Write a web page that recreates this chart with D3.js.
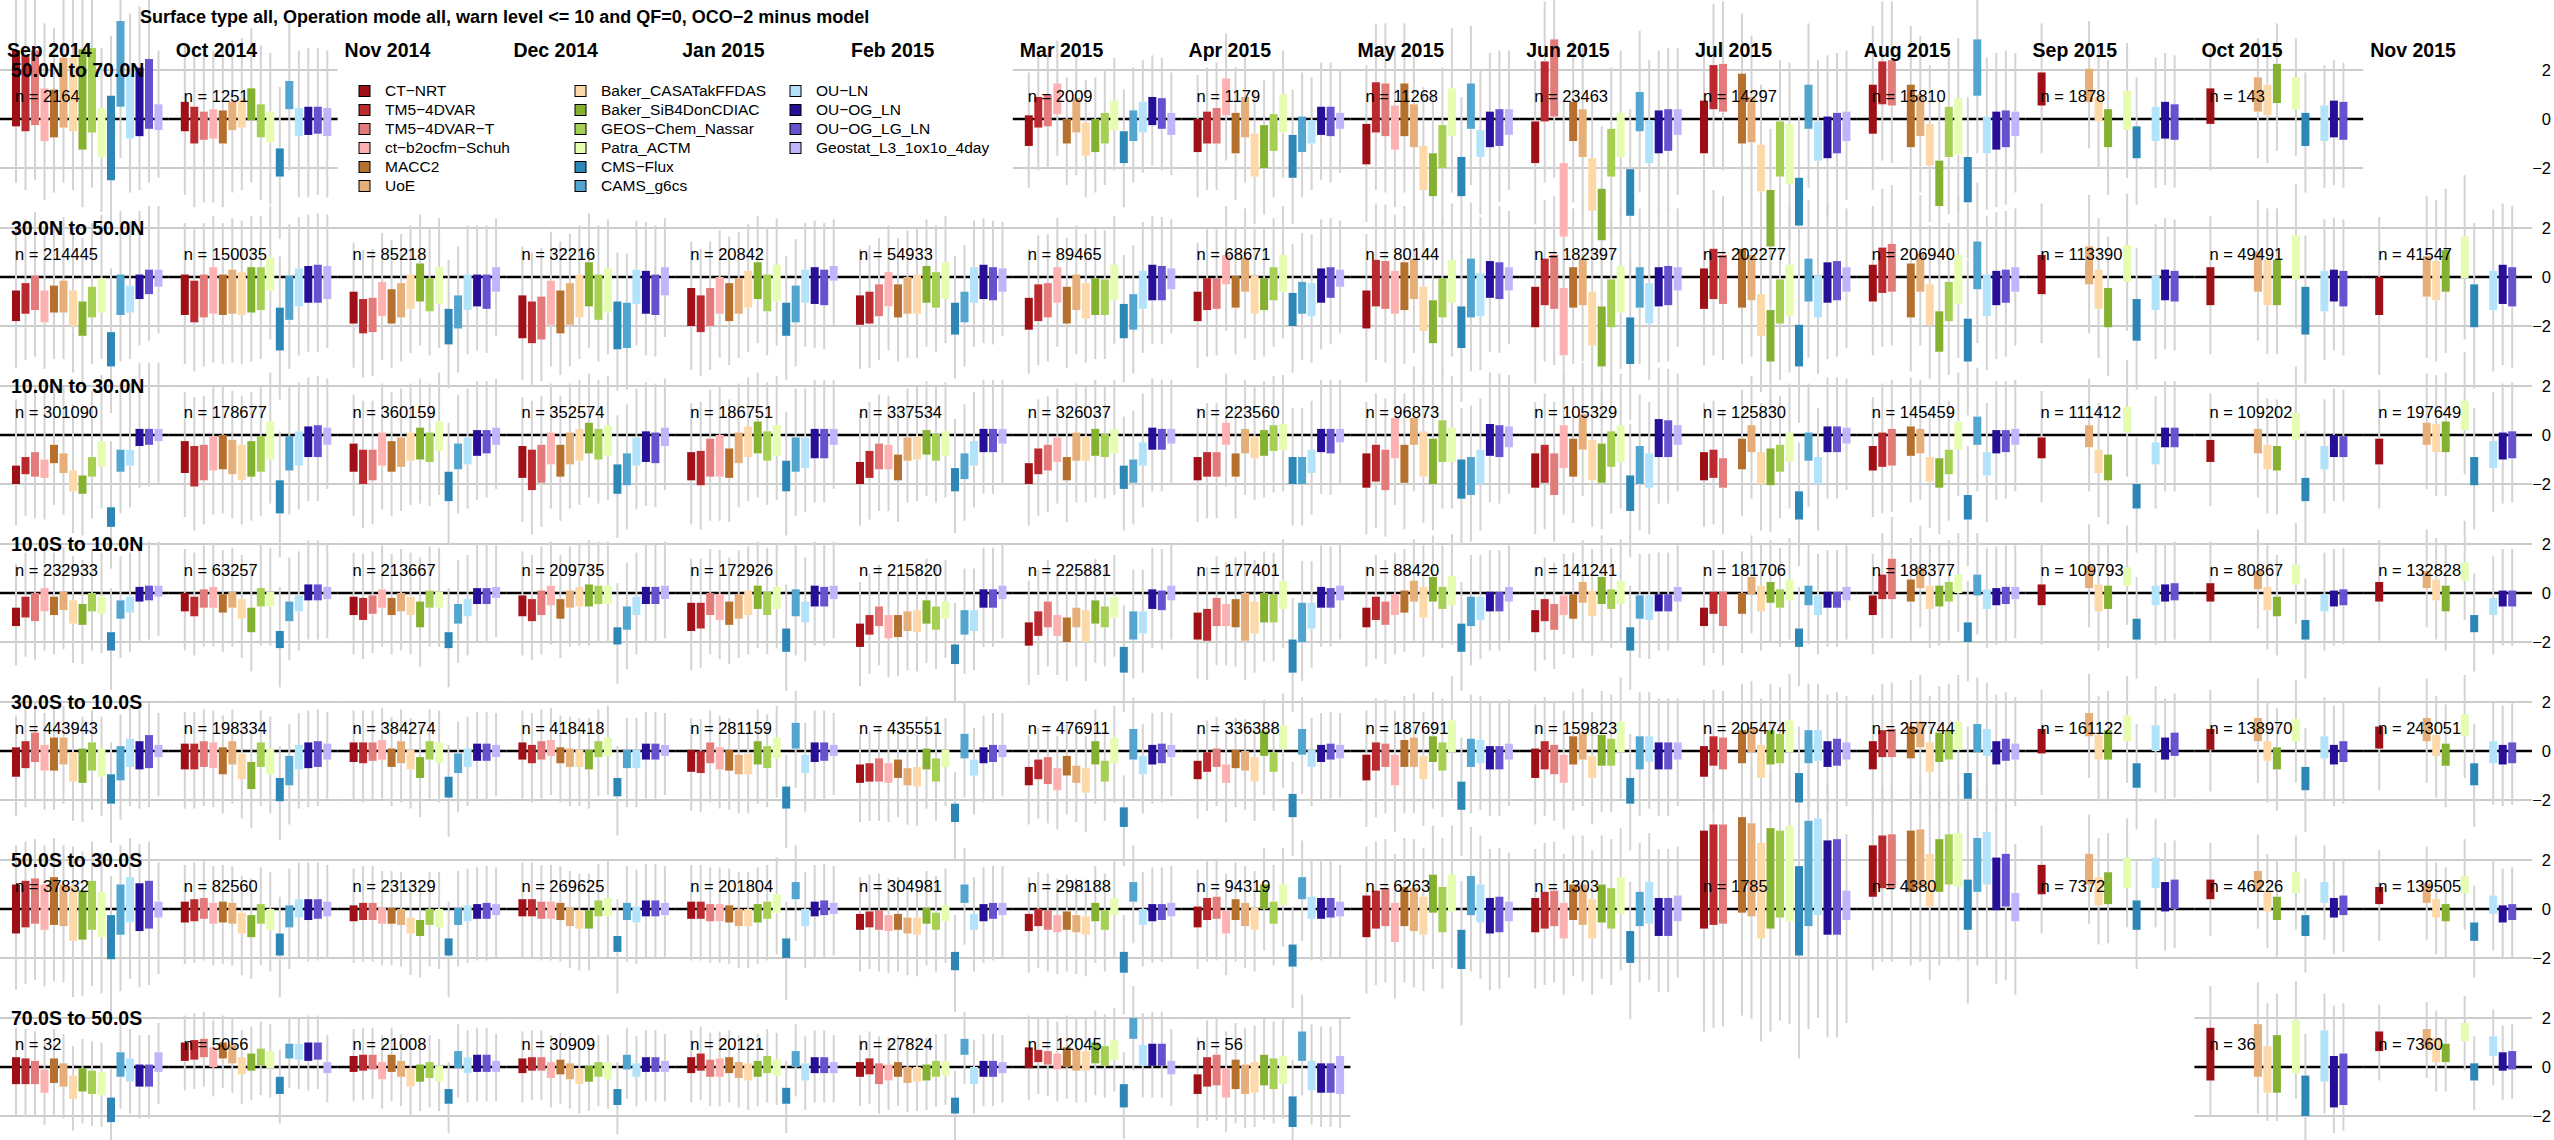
<!DOCTYPE html>
<html>
<head>
<meta charset="utf-8">
<script src="https://cdn.jsdelivr.net/npm/d3@7"></script>
<style>
  body { margin: 0; background: #fff; }
  svg { display: block; font-family: "Liberation Sans", Arial, Helvetica, sans-serif; }
</style>
</head>
<body>
<script>
const _ = null;

const chartTitle = "Surface type all, Operation mode all, warn level <= 10 and QF=0, OCO\u22122 minus model";
const months = ["Sep 2014","Oct 2014","Nov 2014","Dec 2014","Jan 2015","Feb 2015","Mar 2015",
                "Apr 2015","May 2015","Jun 2015","Jul 2015","Aug 2015","Sep 2015","Oct 2015","Nov 2015"];
const bandLabels = ["50.0N to 70.0N","30.0N to 50.0N","10.0N to 30.0N","10.0S to 10.0N",
                    "30.0S to 10.0S","50.0S to 30.0S","70.0S to 50.0S"];
const models = ["CT\u2212NRT","TM5\u22124DVAR","TM5\u22124DVAR\u2212T","ct\u2212b2ocfm\u2212Schuh","MACC2","UoE",
                "Baker_CASATakFFDAS","Baker_SiB4DonCDIAC","GEOS\u2212Chem_Nassar","Patra_ACTM","CMS\u2212Flux","CAMS_g6cs",
                "OU\u2212LN","OU\u2212OG_LN","OU\u2212OG_LG_LN","Geostat_L3_1ox1o_4day"];
const modelColors = ["#9e1016","#bb2a2f","#e47b7b","#fdb1b1","#b5702d","#e6af79",
                     "#fdd8a8","#84b12f","#a6d054","#e5fcb1","#2c87b6","#51a5ce",
                     "#b2e3fa","#271097","#6651cf","#bfb5fa"];
const yTicks = [-2, 0, 2];

// number of soundings per band (rows) and month (columns)
const nCounts = [
  [2164,1251,_,_,_,_,2009,1179,11268,23463,14297,15810,1878,143,_],
  [214445,150035,85218,32216,20842,54933,89465,68671,80144,182397,202277,206940,113390,49491,41547],
  [301090,178677,360159,352574,186751,337534,326037,223560,96873,105329,125830,145459,111412,109202,197649],
  [232933,63257,213667,209735,172926,215820,225881,177401,88420,141241,181706,188377,109793,80867,132828],
  [443943,198334,384274,418418,281159,435551,476911,336388,187691,159823,205474,257744,161122,138970,243051],
  [37832,82560,231329,269625,201804,304981,298188,94319,6263,1303,1785,4380,7372,46226,139505],
  [32,5056,21008,30909,20121,27824,12045,56,_,_,_,_,_,36,7360]
];

// each box: [lower quartile, upper quartile, lower whisker, upper whisker] (ppm)
const band50N70N = [
  [[-0.3,2.8,-2.6,5.3],[-0.5,2.6,-2.9,5.1],[-0.25,2.8,-2.5,5.4],[-0.9,1.25,-3.3,3.9],[-0.75,1.2,-3.0,3.7],[-0.35,2.5,-2.6,5.0],[-0.5,2.5,-2.9,5.2],[-1.25,2.85,-3.6,5.3],[-0.55,2.9,-2.8,5.4],[-1.55,0.45,-3.8,2.9],[-2.5,0.95,-4.6,3.4],[0.5,4.0,-1.6,6.3],[-0.8,1.85,-3.0,4.3],[-0.7,2.1,-2.9,4.6],[-0.4,2.45,-2.6,4.9],[-0.45,0.6,-2.4,2.8]],
  [[-0.5,0.7,-3.1,3.1],[-1.0,0.5,-3.6,2.9],[-0.85,0.3,-3.4,2.7],[-0.8,0.4,-3.4,2.8],[-1.0,0.35,-3.6,2.8],[-0.45,0.7,-3.0,3.2],[-0.35,0.85,-2.9,3.3],[-0.05,1.25,-2.6,3.7],[-0.75,0.6,-3.3,3.0],[-0.95,0.3,-3.5,2.7],[-2.35,-1.2,-4.9,1.3],[0.4,1.55,-2.1,4.0],[-0.7,0.45,-3.2,2.8],[-0.65,0.5,-3.2,2.9],[-0.6,0.5,-3.1,2.9],[-0.7,0.45,-3.2,2.8]],
  _, _, _, _,
  [[-1.1,0.15,-2.8,1.9],[-0.35,0.9,-2.1,2.6],[-0.3,1.0,-2.0,2.7],[0.2,1.45,-1.5,3.2],[-1.0,0.0,-2.7,1.7],[-0.55,0.85,-2.3,2.6],[-1.5,-0.15,-3.2,1.6],[-1.35,0.0,-3.0,1.7],[-1.0,0.25,-2.7,2.0],[-0.45,0.75,-2.1,2.5],[-1.8,-0.5,-3.6,1.2],[-0.9,0.35,-2.6,2.1],[-0.55,0.7,-2.2,2.4],[-0.25,0.9,-1.9,2.6],[-0.4,0.85,-2.1,2.5],[-0.65,0.25,-2.3,1.9]],
  [[-1.35,0.0,-3.2,1.8],[-1.0,0.3,-2.9,2.1],[-1.0,0.45,-2.9,2.3],[0.15,1.65,-1.7,3.5],[-1.4,0.25,-3.3,2.1],[-0.75,0.9,-2.6,2.7],[-2.35,-0.6,-4.3,1.2],[-2.0,-0.25,-3.9,1.6],[-1.3,0.2,-3.2,2.0],[-0.55,1.0,-2.4,2.8],[-2.4,-0.65,-4.3,1.2],[-1.35,0.1,-3.2,1.9],[-1.0,-0.05,-2.9,1.7],[-0.65,0.5,-2.5,2.3],[-0.7,0.5,-2.6,2.3],[-0.4,0.25,-2.2,2.0]],
  [[-1.85,-0.2,-4.2,2.2],[-0.55,1.5,-2.9,3.9],[-0.7,1.45,-3.0,3.9],[-1.25,0.55,-3.6,3.0],[-0.7,1.45,-3.0,3.9],[-1.15,0.6,-3.5,3.0],[-2.9,-1.1,-5.2,1.3],[-3.15,-1.4,-5.5,1.0],[-2.0,-0.25,-4.3,2.1],[-0.7,1.25,-3.0,3.7],[-3.15,-1.55,-5.5,0.9],[-0.4,1.45,-2.7,3.8],[-1.55,-0.45,-3.9,2.0],[-1.15,0.3,-3.5,2.7],[-1.1,0.4,-3.4,2.8],[-0.65,0.4,-2.9,2.8]],
  [[-1.8,-0.1,-4.3,2.4],[-0.1,2.35,-2.6,4.8],[0.1,3.25,-2.4,5.7],[-4.8,-1.8,-7.3,0.7],[-0.9,0.7,-3.4,3.2],[-1.55,0.4,-4.0,2.9],[-3.75,-1.6,-6.2,0.9],[-4.95,-2.85,-7.4,-0.3],[-2.35,-0.4,-4.8,2.1],[-1.55,0.25,-4.0,2.8],[-3.95,-2.05,-6.4,0.4],[-0.5,1.1,-3.0,3.6],[-1.8,-0.05,-4.3,2.4],[-1.4,0.35,-3.9,2.8],[-1.3,0.4,-3.8,2.9],[-0.65,0.4,-3.1,2.9]],
  [[-1.4,0.75,-3.8,3.2],[0.4,2.2,-2.0,4.7],[0.3,2.25,-2.1,4.8],_,[-1.0,1.85,-3.4,4.3],[-0.95,0.9,-3.3,3.4],[-2.95,-1.05,-5.3,1.4],[-5.2,-2.9,-7.6,-0.4],[-2.35,-0.1,-4.7,2.4],[-2.65,-0.2,-5.0,2.3],[-4.35,-2.4,-6.8,0.1],[-0.4,1.4,-2.8,3.9],[-1.7,-0.1,-4.1,2.4],[-1.6,0.1,-4.0,2.6],[-1.4,0.25,-3.8,2.7],[-0.9,0.3,-3.3,2.8]],
  [[-0.6,1.4,-2.9,3.8],[0.6,2.35,-1.7,4.8],[0.55,2.4,-1.8,4.8],_,[-1.15,1.4,-3.5,3.8],[-0.7,1.0,-3.0,3.4],[-1.9,-0.2,-4.2,2.2],[-3.55,-1.7,-5.9,0.7],[-1.55,0.5,-3.9,2.9],[-1.45,0.85,-3.8,3.3],[-3.4,-1.55,-5.7,0.9],[0.95,3.25,-1.4,5.6],[-1.4,0.1,-3.7,2.5],[-1.25,0.3,-3.6,2.7],[-1.15,0.35,-3.5,2.8],[-0.7,0.3,-3.0,2.7]],
  [[0.55,1.9,-1.4,3.9],_,_,_,_,[0.7,2.05,-1.2,4.0],[-0.1,0.9,-2.0,2.9],[-1.15,0.4,-3.1,2.4],_,[-0.45,1.15,-2.4,3.1],[-1.6,-0.3,-3.5,1.7],_,[-0.9,0.5,-2.8,2.5],[-0.8,0.7,-2.7,2.7],[-0.85,0.6,-2.8,2.6],_],
  [[-0.2,1.25,-2.1,2.9],_,_,_,_,[0.3,1.7,-1.6,3.3],[0.15,1.4,-1.8,3.0],[0.65,2.25,-1.3,3.9],_,[0.4,1.7,-1.5,3.3],[-1.1,0.25,-3.0,1.9],_,[-0.9,0.55,-2.8,2.2],[-0.75,0.75,-2.7,2.4],[-0.85,0.7,-2.8,2.3],_],
  _
];

const band30N50N = [
  [[-1.8,-0.55,-3.7,2.05],[-1.5,-0.25,-3.4,2.35],[-1.35,0.05,-3.25,2.65],[-1.85,-0.55,-3.75,2.05],[-1.45,-0.35,-3.35,2.25],[-1.45,-0.15,-3.35,2.45],[-2.0,-0.55,-3.9,2.05],[-2.4,-1.0,-4.3,1.6],[-1.65,-0.4,-3.55,2.2],[-1.45,-0.05,-3.35,2.55],[-3.65,-2.25,-5.55,0.35],[-1.55,0.1,-3.45,2.7],[-1.45,-0.35,-3.35,2.25],[-0.9,0.1,-2.8,2.7],[-0.7,0.3,-2.6,2.9],[-0.4,0.3,-2.3,2.9]],
  [[-1.55,0.1,-3.55,2.2],[-1.85,-0.15,-3.85,1.95],[-1.65,0.1,-3.65,2.2],[-1.5,0.4,-3.5,2.5],[-1.55,0.1,-3.55,2.2],[-1.5,0.3,-3.5,2.4],[-1.55,0.2,-3.55,2.3],[-1.45,0.4,-3.45,2.5],[-1.35,0.4,-3.35,2.5],[-0.55,0.8,-2.55,2.9],[-3.0,-1.25,-5.0,0.85],[-1.75,0.05,-3.75,2.15],[-1.2,0.35,-3.2,2.45],[-1.05,0.45,-3.05,2.55],[-1.05,0.5,-3.05,2.6],[-0.9,0.45,-2.9,2.55]],
  [[-1.9,-0.6,-3.7,1.4],[-2.3,-0.9,-4.1,1.1],[-2.25,-0.85,-4.05,1.15],[-1.6,-0.2,-3.4,1.8],[-1.9,-0.5,-3.7,1.5],[-1.65,-0.25,-3.45,1.75],[-1.3,0.1,-3.1,2.1],[-1.0,0.55,-2.8,2.55],[-1.4,-0.05,-3.2,1.95],[-1.1,0.4,-2.9,2.4],[-2.75,-1.3,-4.55,0.7],[-2.1,-0.75,-3.9,1.25],[-1.35,0.1,-3.15,2.1],[-1.2,0.1,-3.0,2.1],[-1.3,0.1,-3.1,2.1],[-0.6,0.4,-2.4,2.4]],
  [[-2.5,-0.75,-4.2,1.25],[-2.7,-1.0,-4.4,1.0],[-2.55,-0.8,-4.25,1.2],[-1.95,-0.15,-3.65,1.85],[-2.3,-0.55,-4.0,1.45],[-1.95,-0.25,-3.65,1.75],[-1.65,0.1,-3.35,2.1],[-1.2,0.6,-2.9,2.6],[-1.75,0.1,-3.45,2.1],[-1.45,0.35,-3.15,2.35],[-2.95,-1.0,-4.65,1.0],[-2.9,-1.05,-4.6,0.95],[-1.1,0.3,-2.8,2.3],[-1.5,0.25,-3.2,2.25],[-1.55,0.1,-3.25,2.1],[-0.75,0.4,-2.45,2.4]],
  [[-2.0,-0.45,-3.8,1.45],[-2.25,-0.75,-4.05,1.15],[-2.0,-0.45,-3.8,1.45],[-1.5,0.0,-3.3,1.9],[-1.8,-0.25,-3.6,1.65],[-1.5,-0.05,-3.3,1.85],[-1.25,0.25,-3.05,2.15],[-0.9,0.6,-2.7,2.5],[-1.4,0.1,-3.2,2.0],[-1.0,0.5,-2.8,2.4],[-2.4,-1.05,-4.2,0.85],[-1.85,-0.35,-3.65,1.55],[-1.05,0.3,-2.85,2.2],[-1.1,0.4,-2.9,2.3],[-1.15,0.3,-2.95,2.2],[-0.15,0.45,-1.95,2.35]],
  [[-1.95,-0.75,-3.75,1.15],[-1.9,-0.6,-3.7,1.3],[-1.6,-0.3,-3.4,1.6],[-1.2,0.2,-3.0,2.1],[-1.65,-0.3,-3.45,1.6],[-1.5,0.0,-3.3,1.9],[-1.5,0.1,-3.3,2.0],[-1.05,0.45,-2.85,2.35],[-1.25,0.2,-3.05,2.1],[-0.9,0.6,-2.7,2.5],[-2.35,-1.05,-4.15,0.85],[-1.85,-0.6,-3.65,1.3],[-1.05,0.4,-2.85,2.3],[-0.9,0.5,-2.7,2.4],[-0.95,0.4,-2.75,2.3],[-0.6,0.35,-2.4,2.25]],
  [[-2.15,-0.85,-3.95,1.15],[-1.8,-0.3,-3.6,1.7],[-1.65,-0.25,-3.45,1.75],[-1.05,0.4,-2.85,2.4],[-1.9,-0.4,-3.7,1.6],[-1.35,0.1,-3.15,2.1],[-1.7,-0.25,-3.5,1.75],[-1.55,-0.05,-3.35,1.95],[-1.55,-0.1,-3.35,1.9],[-0.95,0.5,-2.75,2.5],[-2.5,-1.1,-4.3,0.9],[-2.15,-0.7,-3.95,1.3],[-1.3,0.25,-3.1,2.25],[-0.95,0.5,-2.75,2.5],[-0.95,0.45,-2.75,2.45],[-0.5,0.35,-2.3,2.35]],
  [[-1.8,-0.6,-3.7,1.4],[-1.35,-0.05,-3.25,1.95],[-1.3,-0.05,-3.2,1.95],[-0.3,0.9,-2.2,2.9],[-1.25,0.05,-3.15,2.05],[-0.6,0.8,-2.5,2.8],[-1.5,0.05,-3.4,2.05],[-1.35,-0.05,-3.25,1.95],[-0.95,0.4,-2.85,2.4],[-0.6,0.9,-2.5,2.9],[-2.0,-0.65,-3.9,1.35],[-1.5,-0.2,-3.4,1.8],[-1.6,-0.25,-3.5,1.75],[-1.05,0.35,-2.95,2.35],[-0.85,0.4,-2.75,2.4],[-0.4,0.3,-2.3,2.3]],
  [[-2.1,-0.55,-4.3,1.75],[-1.2,0.7,-3.4,3.0],[-1.3,0.65,-3.5,2.95],[-1.5,0.25,-3.7,2.55],[-1.35,0.6,-3.55,2.9],[-0.9,0.75,-3.1,3.05],[-2.2,-0.4,-4.4,1.9],[-2.7,-0.95,-4.9,1.35],[-1.65,-0.05,-3.85,2.25],[-1.05,0.7,-3.25,3.0],[-2.9,-1.2,-5.1,1.1],[-1.65,0.75,-3.85,3.05],[-1.6,0.15,-3.8,2.45],[-0.85,0.65,-3.05,2.95],[-0.9,0.6,-3.1,2.9],[-0.55,0.4,-2.75,2.7]],
  [[-2.05,-0.4,-4.35,2.0],[-1.15,0.75,-3.45,3.15],[-1.3,0.9,-3.6,3.3],[-3.2,-0.45,-5.5,1.95],[-1.25,0.4,-3.55,2.8],[-1.15,0.75,-3.45,3.15],[-2.8,-0.6,-5.1,1.8],[-3.65,-1.2,-5.95,1.2],[-2.05,-0.1,-4.35,2.3],[-1.45,0.45,-3.75,2.85],[-3.55,-1.65,-5.85,0.75],[-1.25,0.4,-3.55,2.8],[-1.9,-0.25,-4.2,2.15],[-1.2,0.4,-3.5,2.8],[-1.15,0.45,-3.45,2.85],[-0.55,0.4,-2.85,2.8]],
  [[-1.3,0.35,-3.6,2.75],[-0.9,1.15,-3.2,3.55],[-1.1,0.9,-3.4,3.3],_,[-1.25,1.15,-3.55,3.55],[-0.95,0.9,-3.25,3.3],[-2.4,-0.7,-4.7,1.7],[-3.45,-1.35,-5.75,1.05],[-1.9,-0.1,-4.2,2.3],[-1.6,0.5,-3.9,2.9],[-3.65,-1.95,-5.95,0.45],[-1.0,0.75,-3.3,3.15],[-1.65,0.05,-3.95,2.45],[-1.05,0.6,-3.35,3.0],[-0.95,0.65,-3.25,3.05],[-0.6,0.4,-2.9,2.8]],
  [[-1.0,0.5,-3.2,2.9],[-0.65,1.2,-2.85,3.6],[-0.6,1.35,-2.8,3.75],_,[-1.65,0.55,-3.85,2.95],[-0.6,0.95,-2.8,3.35],[-1.95,-0.3,-4.15,2.1],[-3.05,-1.4,-5.25,1.0],[-1.8,-0.2,-4.0,2.2],[-1.1,0.9,-3.3,3.3],[-3.45,-1.7,-5.65,0.7],[-0.5,1.45,-2.7,3.85],[-1.6,0.1,-3.8,2.5],[-1.15,0.25,-3.35,2.65],[-1.05,0.3,-3.25,2.7],[-0.6,0.4,-2.8,2.8]],
  [[-0.7,0.9,-2.7,3.0],_,_,_,_,[-0.3,1.25,-2.3,3.35],[-1.3,0.3,-3.3,2.4],[-2.05,-0.45,-4.05,1.65],_,[-0.2,1.3,-2.2,3.4],[-2.6,-0.9,-4.6,1.2],_,[-1.35,0.05,-3.35,2.15],[-0.95,0.3,-2.95,2.4],[-1.0,0.25,-3.0,2.35],_],
  [[-1.15,0.4,-3.15,2.5],_,_,_,_,[-0.6,1.05,-2.6,3.15],[-1.15,0.7,-3.15,2.8],[-1.15,0.7,-3.15,2.8],_,[-0.1,1.7,-2.1,3.8],[-2.35,-0.4,-4.35,1.7],_,[-1.4,0.25,-3.4,2.35],[-1.0,0.3,-3.0,2.4],[-1.2,0.25,-3.2,2.35],_],
  [[-1.55,0.0,-4.0,2.45],_,_,_,_,[-0.8,0.85,-3.3,3.3],[-0.95,0.65,-3.45,3.15],[-0.6,1.1,-3.1,3.6],_,[-0.05,1.65,-2.55,4.15],[-2.05,-0.3,-4.55,2.2],_,[-1.35,0.25,-3.85,2.75],[-1.1,0.5,-3.6,3.0],[-1.2,0.4,-3.7,2.9],_]
];

const band10N30N = [
  [[-2.0,-1.25,-3.7,1.45],[-1.6,-0.9,-3.3,1.8],[-1.7,-0.7,-3.4,2.0],[-1.75,-1.0,-3.45,1.7],[-1.15,-0.4,-2.85,2.3],[-1.55,-0.75,-3.25,1.95],[-2.3,-1.45,-4.0,1.25],[-2.4,-1.65,-4.1,1.05],[-1.7,-0.9,-3.4,1.8],[-1.3,-0.25,-3.0,2.45],[-3.75,-2.95,-5.45,-0.25],[-1.5,-0.6,-3.2,2.1],[-1.25,-0.6,-2.95,2.1],[-0.45,0.25,-2.15,2.95],[-0.4,0.25,-2.1,2.95],[-0.25,0.25,-1.95,2.95]],
  [[-1.55,-0.25,-3.35,1.75],[-2.1,-0.45,-3.9,1.55],[-1.85,-0.4,-3.65,1.6],[-1.45,-0.05,-3.25,1.95],[-1.4,0.0,-3.2,2.0],[-1.6,-0.2,-3.4,1.8],[-1.85,-0.4,-3.65,1.6],[-1.7,-0.25,-3.5,1.75],[-1.5,-0.05,-3.3,1.95],[-1.0,0.55,-2.8,2.55],[-3.2,-1.85,-5.0,0.15],[-1.45,-0.05,-3.25,1.95],[-1.25,0.15,-3.05,2.15],[-0.9,0.35,-2.7,2.35],[-0.9,0.4,-2.7,2.4],[-0.4,0.3,-2.2,2.3]],
  [[-1.5,-0.35,-3.3,1.65],[-2.0,-0.6,-3.8,1.4],[-1.85,-0.6,-3.65,1.4],[-1.25,0.1,-3.05,2.1],[-1.5,-0.25,-3.3,1.75],[-1.3,-0.1,-3.1,1.9],[-1.05,0.1,-2.85,2.1],[-1.0,0.3,-2.8,2.3],[-1.1,0.1,-2.9,2.1],[-0.65,0.55,-2.45,2.55],[-2.7,-1.5,-4.5,0.5],[-1.4,-0.35,-3.2,1.65],[-1.2,-0.1,-3.0,1.9],[-0.85,0.2,-2.65,2.2],[-0.75,0.2,-2.55,2.2],[-0.4,0.3,-2.2,2.3]],
  [[-1.75,-0.45,-3.55,1.55],[-2.25,-0.6,-4.05,1.4],[-1.95,-0.4,-3.75,1.6],[-1.2,0.1,-3.0,2.1],[-1.7,-0.4,-3.5,1.6],[-1.2,0.1,-3.0,2.1],[-1.05,0.25,-2.85,2.25],[-0.75,0.5,-2.55,2.5],[-1.0,0.25,-2.8,2.25],[-0.85,0.4,-2.65,2.4],[-2.4,-1.2,-4.2,0.8],[-2.05,-0.75,-3.85,1.25],[-1.25,-0.1,-3.05,1.9],[-1.1,0.15,-2.9,2.15],[-1.15,0.1,-2.95,2.1],[-0.45,0.3,-2.25,2.3]],
  [[-1.85,-0.7,-3.65,1.3],[-2.05,-0.65,-3.85,1.35],[-1.7,-0.15,-3.5,1.85],[-1.7,0.0,-3.5,2.0],[-1.75,-0.55,-3.55,1.45],[-1.15,0.1,-2.95,2.1],[-0.9,0.35,-2.7,2.35],[-0.75,0.55,-2.55,2.55],[-1.05,0.15,-2.85,2.15],[-0.85,0.4,-2.65,2.4],[-2.3,-1.05,-4.1,0.95],[-1.5,-0.1,-3.3,1.9],[-1.35,-0.1,-3.15,1.9],[-0.95,0.25,-2.75,2.25],[-0.95,0.25,-2.75,2.25],[-0.4,0.25,-2.2,2.25]],
  [[-2.0,-1.1,-3.7,0.9],[-1.75,-0.65,-3.45,1.35],[-1.4,-0.35,-3.1,1.65],[-1.4,-0.4,-3.1,1.6],[-1.85,-0.8,-3.55,1.2],[-1.05,-0.1,-2.75,1.9],[-1.0,-0.05,-2.7,1.95],[-0.8,0.2,-2.5,2.2],[-1.05,0.05,-2.75,2.05],[-0.85,0.15,-2.55,2.15],[-2.3,-1.35,-4.0,0.65],[-1.8,-0.75,-3.5,1.25],[-1.25,-0.25,-2.95,1.75],[-0.7,0.25,-2.4,2.25],[-0.7,0.25,-2.4,2.25],[-0.35,0.25,-2.05,2.25]],
  [[-2.0,-1.15,-3.7,0.85],[-1.6,-0.55,-3.3,1.45],[-1.45,-0.4,-3.15,1.6],[-1.1,-0.1,-2.8,1.9],[-1.85,-0.9,-3.55,1.1],[-1.05,0.1,-2.75,2.1],[-1.05,-0.05,-2.75,1.95],[-0.85,0.25,-2.55,2.25],[-0.9,0.05,-2.6,2.05],[-0.75,0.25,-2.45,2.25],[-2.2,-1.25,-3.9,0.75],[-1.95,-1.0,-3.65,1.0],[-1.25,-0.3,-2.95,1.7],[-0.6,0.3,-2.3,2.3],[-0.6,0.25,-2.3,2.25],[-0.35,0.25,-2.05,2.25]],
  [[-1.85,-0.9,-3.55,1.1],[-1.7,-0.7,-3.4,1.3],[-1.7,-0.7,-3.4,1.3],[-0.4,0.5,-2.1,2.5],[-1.7,-0.75,-3.4,1.25],[-0.75,0.25,-2.45,2.25],[-0.95,-0.05,-2.65,1.95],[-0.85,0.2,-2.55,2.2],[-0.65,0.4,-2.35,2.4],[-0.6,0.45,-2.3,2.45],[-2.0,-0.9,-3.7,1.1],[-2.0,-0.9,-3.7,1.1],[-1.55,-0.6,-3.25,1.4],[-0.7,0.25,-2.4,2.25],[-0.75,0.25,-2.45,2.25],[-0.3,0.25,-2.0,2.25]],
  [[-2.15,-0.75,-4.05,1.35],[-1.9,-0.4,-3.8,1.7],[-2.25,-0.6,-4.15,1.5],[-0.95,0.7,-2.85,2.8],[-1.95,-0.4,-3.85,1.7],[-0.4,0.7,-2.3,2.8],[-1.7,0.15,-3.6,2.25],[-2.0,-0.15,-3.9,1.95],[-1.1,0.6,-3.0,2.7],[-1.1,0.3,-3.0,2.4],[-2.6,-1.0,-4.5,1.1],[-2.45,-0.9,-4.35,1.2],[-2.0,-0.6,-3.9,1.5],[-0.85,0.45,-2.75,2.55],[-0.9,0.4,-2.8,2.5],[-0.5,0.35,-2.4,2.45]],
  [[-2.15,-0.75,-4.05,1.35],[-1.95,-0.4,-3.85,1.7],[-2.45,-0.75,-4.35,1.35],[-1.35,0.4,-3.25,2.5],[-1.7,-0.15,-3.6,1.95],[-0.6,0.85,-2.5,2.95],[-1.85,-0.2,-3.75,1.9],[-1.95,-0.35,-3.85,1.75],[-1.3,0.15,-3.2,2.25],[-1.1,0.4,-3.0,2.5],[-3.1,-1.65,-5.0,0.45],[-2.0,-0.45,-3.9,1.65],[-2.15,-0.75,-4.05,1.35],[-0.9,0.65,-2.8,2.75],[-0.9,0.6,-2.8,2.7],[-0.4,0.4,-2.3,2.5]],
  [[-1.85,-0.7,-3.75,1.3],[-1.75,-0.6,-3.65,1.4],[-2.15,-0.95,-4.05,1.05],_,[-1.4,-0.15,-3.3,1.85],[-0.7,0.4,-2.6,2.4],[-2.0,-0.7,-3.9,1.3],[-2.05,-0.55,-3.95,1.45],[-1.5,-0.4,-3.4,1.6],[-1.1,0.1,-3.0,2.1],[-3.45,-2.3,-5.35,-0.3],[-1.05,0.1,-2.95,2.1],[-2.0,-0.9,-3.9,1.1],[-0.7,0.35,-2.6,2.35],[-0.7,0.35,-2.6,2.35],[-0.35,0.3,-2.25,2.3]],
  [[-1.45,-0.45,-3.35,1.55],[-1.3,0.1,-3.2,2.1],[-1.25,0.25,-3.15,2.25],_,[-0.85,0.35,-2.75,2.35],[-0.75,0.25,-2.65,2.25],[-1.9,-0.9,-3.8,1.1],[-2.15,-0.95,-4.05,1.05],[-1.6,-0.6,-3.5,1.4],[-0.6,0.55,-2.5,2.55],[-3.45,-2.45,-5.35,-0.45],[-0.4,0.75,-2.3,2.75],[-1.65,-0.7,-3.55,1.3],[-0.75,0.2,-2.65,2.2],[-0.7,0.2,-2.6,2.2],[-0.4,0.25,-2.3,2.25]],
  [[-0.95,-0.1,-2.75,1.8],_,_,_,_,[-0.5,0.4,-2.3,2.3],[-1.55,-0.6,-3.35,1.3],[-1.85,-0.8,-3.65,1.1],_,[0.1,1.15,-1.7,3.05],[-3.0,-2.0,-4.8,-0.1],_,[-1.2,-0.3,-3.0,1.6],[-0.5,0.3,-2.3,2.2],[-0.5,0.3,-2.3,2.2],_],
  [[-1.1,-0.2,-2.9,1.7],_,_,_,_,[-0.75,0.25,-2.55,2.15],[-1.4,-0.4,-3.2,1.5],[-1.45,-0.45,-3.25,1.45],_,[-0.2,0.9,-2.0,2.8],[-2.7,-1.75,-4.5,0.15],_,[-1.4,-0.45,-3.2,1.45],[-0.9,0.0,-2.7,1.9],[-0.9,-0.05,-2.7,1.85],_],
  [[-1.2,-0.15,-3.0,1.85],_,_,_,_,[-0.4,0.5,-2.2,2.5],[-0.7,0.45,-2.5,2.45],[-0.7,0.55,-2.5,2.55],_,[0.2,1.4,-1.6,3.4],[-2.05,-0.9,-3.85,1.1],_,[-1.35,-0.25,-3.15,1.75],[-1.0,0.1,-2.8,2.1],[-0.95,0.15,-2.75,2.15],_]
];

const band10S10N = [
  [[-1.35,-0.6,-2.95,1.2],[-1.0,-0.15,-2.6,1.65],[-1.15,0.0,-2.75,1.8],[-0.75,0.2,-2.35,2.0],[-0.9,-0.15,-2.5,1.65],[-0.7,0.05,-2.3,1.85],[-1.25,-0.3,-2.85,1.5],[-1.3,-0.45,-2.9,1.35],[-0.75,0.0,-2.35,1.8],[-0.85,-0.15,-2.45,1.65],[-2.35,-1.6,-3.95,0.2],[-1.05,-0.3,-2.65,1.5],[-0.8,-0.15,-2.4,1.65],[-0.35,0.25,-1.95,2.05],[-0.3,0.3,-1.9,2.1],[-0.15,0.3,-1.75,2.1]],
  [[-0.75,0.0,-2.35,1.8],[-0.95,-0.15,-2.55,1.65],[-0.6,0.15,-2.2,1.95],[-0.6,0.25,-2.2,2.05],[-0.8,-0.05,-2.4,1.75],[-0.6,0.05,-2.2,1.85],[-1.05,-0.25,-2.65,1.55],[-1.6,-0.6,-3.2,1.2],[-0.55,0.2,-2.15,2.0],[-0.55,0.05,-2.15,1.85],[-2.25,-1.55,-3.85,0.25],[-1.15,-0.35,-2.75,1.45],[-0.75,-0.1,-2.35,1.7],[-0.3,0.35,-1.9,2.15],[-0.3,0.35,-1.9,2.15],[-0.25,0.25,-1.85,2.05]],
  [[-0.9,-0.15,-2.5,1.65],[-1.1,-0.2,-2.7,1.6],[-0.85,-0.1,-2.45,1.7],[-0.6,0.15,-2.2,1.95],[-0.9,-0.2,-2.5,1.6],[-0.75,0.0,-2.35,1.8],[-0.9,-0.15,-2.5,1.65],[-1.4,-0.35,-3.0,1.45],[-0.6,0.1,-2.2,1.9],[-0.6,0.05,-2.2,1.85],[-2.25,-1.6,-3.85,0.2],[-1.25,-0.45,-2.85,1.35],[-0.95,-0.25,-2.55,1.55],[-0.45,0.2,-2.05,2.0],[-0.45,0.2,-2.05,2.0],[-0.2,0.25,-1.8,2.05]],
  [[-0.95,-0.1,-2.55,1.7],[-1.15,-0.25,-2.75,1.55],[-0.9,0.1,-2.5,1.9],[-0.5,0.3,-2.1,2.1],[-1.05,-0.25,-2.65,1.55],[-0.6,0.1,-2.2,1.9],[-0.55,0.25,-2.15,2.05],[-0.55,0.35,-2.15,2.15],[-0.45,0.3,-2.05,2.1],[-0.45,0.3,-2.05,2.1],[-2.1,-1.4,-3.7,0.4],[-1.5,-0.55,-3.1,1.25],[-0.9,-0.15,-2.5,1.65],[-0.45,0.25,-2.05,2.05],[-0.45,0.25,-2.05,2.05],[-0.25,0.3,-1.85,2.1]],
  [[-1.55,-0.4,-3.15,1.4],[-1.45,-0.4,-3.05,1.4],[-0.9,0.0,-2.5,1.8],[-1.1,-0.05,-2.7,1.75],[-1.3,-0.35,-2.9,1.45],[-1.05,-0.05,-2.65,1.75],[-0.9,0.1,-2.5,1.9],[-0.65,0.3,-2.25,2.1],[-0.9,0.05,-2.5,1.85],[-0.65,0.25,-2.25,2.05],[-2.4,-1.45,-4.0,0.35],[-0.95,0.15,-2.55,1.95],[-1.2,-0.35,-2.8,1.45],[-0.55,0.3,-2.15,2.1],[-0.55,0.25,-2.15,2.05],[-0.25,0.3,-1.85,2.1]],
  [[-2.2,-1.25,-3.8,0.45],[-1.7,-0.9,-3.3,0.8],[-1.35,-0.55,-2.95,1.15],[-1.85,-0.9,-3.45,0.8],[-1.8,-0.9,-3.4,0.8],[-1.55,-0.75,-3.15,0.95],[-1.6,-0.7,-3.2,1.0],[-1.25,-0.3,-2.85,1.4],[-1.5,-0.55,-3.1,1.15],[-1.05,-0.35,-2.65,1.35],[-2.9,-2.1,-4.5,-0.4],[-1.7,-0.7,-3.3,1.0],[-1.55,-0.7,-3.15,1.0],[-0.6,0.15,-2.2,1.85],[-0.6,0.15,-2.2,1.85],[-0.25,0.3,-1.85,2.0]],
  [[-2.15,-1.2,-3.75,0.5],[-1.75,-0.75,-3.35,0.95],[-1.4,-0.35,-3.0,1.35],[-1.75,-0.9,-3.35,0.8],[-2.0,-1.0,-3.6,0.7],[-1.4,-0.6,-3.0,1.1],[-2.0,-0.7,-3.6,1.0],[-1.25,-0.3,-2.85,1.4],[-1.4,-0.55,-3.0,1.15],[-1.0,-0.15,-2.6,1.55],[-3.25,-2.2,-4.85,-0.5],[-1.9,-0.75,-3.5,0.95],[-1.65,-0.75,-3.25,0.95],[-0.65,0.15,-2.25,1.85],[-0.7,0.1,-2.3,1.8],[-0.3,0.3,-1.9,2.0]],
  [[-1.9,-0.8,-3.5,0.9],[-1.95,-0.65,-3.55,1.05],[-1.35,-0.2,-2.95,1.5],[-1.35,-0.45,-2.95,1.25],[-1.4,-0.25,-3.0,1.45],[-1.95,0.0,-3.55,1.7],[-1.65,-0.35,-3.25,1.35],[-1.2,0.0,-2.8,1.7],[-1.2,-0.05,-2.8,1.65],[-0.65,0.5,-2.25,2.2],[-3.25,-1.9,-4.85,-0.2],[-2.0,-0.4,-3.6,1.3],[-1.45,-0.4,-3.05,1.3],[-0.6,0.25,-2.2,1.95],[-0.6,0.2,-2.2,1.9],[-0.3,0.3,-1.9,2.0]],
  [[-1.4,-0.6,-3.0,1.1],[-1.1,-0.15,-2.7,1.55],[-1.3,-0.35,-2.9,1.35],[-0.9,-0.05,-2.5,1.65],[-0.8,0.1,-2.4,1.8],[-0.35,0.5,-1.95,2.2],[-1.0,0.25,-2.6,1.95],[-0.35,0.65,-1.95,2.35],[-0.65,0.25,-2.25,1.95],[-0.5,0.7,-2.1,2.4],[-2.4,-1.25,-4.0,0.45],[-1.35,-0.15,-2.95,1.55],[-1.1,-0.15,-2.7,1.55],[-0.75,0.05,-2.35,1.75],[-0.75,0.05,-2.35,1.75],[-0.35,0.25,-1.95,1.95]],
  [[-1.6,-0.7,-3.2,1.0],[-1.15,-0.25,-2.75,1.45],[-1.5,-0.45,-3.1,1.25],[-0.9,-0.1,-2.5,1.6],[-1.05,-0.05,-2.65,1.65],[-0.4,0.45,-2.0,2.15],[-0.95,0.1,-2.55,1.8],[-0.45,0.65,-2.05,2.35],[-0.65,0.15,-2.25,1.85],[-0.45,0.5,-2.05,2.2],[-2.35,-1.4,-3.95,0.3],[-1.05,-0.1,-2.65,1.6],[-1.1,-0.1,-2.7,1.6],[-0.75,-0.05,-2.35,1.65],[-0.75,-0.05,-2.35,1.65],[-0.35,0.25,-1.95,1.95]],
  [[-1.35,-0.6,-2.95,1.1],[-0.85,0.05,-2.45,1.75],[-1.35,0.05,-2.95,1.75],_,[-0.85,0.0,-2.45,1.7],[-0.05,0.65,-1.65,2.35],[-0.75,0.3,-2.35,2.0],[-0.4,0.45,-2.0,2.15],[-0.6,0.15,-2.2,1.85],[-0.3,0.55,-1.9,2.25],[-2.2,-1.45,-3.8,0.25],[-0.5,0.3,-2.1,2.0],[-0.9,-0.1,-2.5,1.6],[-0.6,0.05,-2.2,1.75],[-0.6,0.05,-2.2,1.75],[-0.3,0.25,-1.9,1.95]],
  [[-0.9,-0.1,-2.5,1.6],[-0.25,0.75,-1.85,2.45],[-0.25,1.4,-1.85,3.1],_,[-0.35,0.55,-1.95,2.25],[0.2,1.05,-1.4,2.75],[-0.65,0.3,-2.25,2.0],[-0.55,0.3,-2.15,2.0],[-0.35,0.45,-1.95,2.15],[0.0,0.75,-1.6,2.45],[-2.0,-1.2,-3.6,0.5],[-0.1,0.75,-1.7,2.45],[-0.65,0.15,-2.25,1.85],[-0.5,0.2,-2.1,1.9],[-0.45,0.25,-2.05,1.95],[-0.25,0.25,-1.85,1.95]],
  [[-0.5,0.35,-2.1,2.05],_,_,_,_,[0.2,1.1,-1.4,2.8],[-0.75,0.35,-2.35,2.05],[-0.65,0.3,-2.25,2.0],_,[0.3,1.05,-1.3,2.75],[-1.9,-1.05,-3.5,0.65],_,[-0.5,0.3,-2.1,2.0],[-0.35,0.35,-1.95,2.05],[-0.3,0.4,-1.9,2.1],_],
  [[-0.35,0.4,-1.95,2.1],_,_,_,_,[0.15,0.9,-1.45,2.6],[-0.7,0.25,-2.3,1.95],[-0.95,-0.15,-2.55,1.55],_,[0.35,1.15,-1.25,2.85],[-1.9,-1.1,-3.5,0.6],_,[-0.75,-0.05,-2.35,1.65],[-0.55,0.1,-2.15,1.8],[-0.5,0.15,-2.1,1.85],_],
  [[-0.35,0.45,-1.95,2.15],_,_,_,_,[0.2,0.9,-1.4,2.6],[-0.3,0.55,-1.9,2.25],[-0.75,0.3,-2.35,2.0],_,[0.5,1.25,-1.1,2.95],[-1.6,-0.9,-3.2,0.8],_,[-0.9,-0.2,-2.5,1.5],[-0.55,0.1,-2.15,1.8],[-0.55,0.1,-2.15,1.8],_]
];

const band30S10S = [
  [[-1.05,0.15,-2.65,1.45],[-0.7,0.4,-2.3,1.7],[-0.45,0.75,-2.05,2.05],[-0.8,0.25,-2.4,1.55],[-0.8,0.55,-2.4,1.85],[-0.55,0.55,-2.15,1.85],[-1.25,-0.05,-2.85,1.25],[-1.3,0.1,-2.9,1.4],[-0.8,0.35,-2.4,1.65],[-1.05,0.1,-2.65,1.4],[-2.15,-0.95,-3.75,0.35],[-1.2,0.2,-2.8,1.5],[-0.65,0.5,-2.25,1.8],[-0.75,0.4,-2.35,1.7],[-0.7,0.65,-2.3,1.95],[-0.25,0.25,-1.85,1.55]],
  [[-0.75,0.3,-2.35,1.6],[-0.75,0.3,-2.35,1.6],[-0.65,0.4,-2.25,1.7],[-0.7,0.35,-2.3,1.65],[-0.95,0.15,-2.55,1.45],[-0.55,0.4,-2.15,1.7],[-1.15,-0.1,-2.75,1.2],[-1.55,-0.45,-3.15,0.85],[-0.65,0.35,-2.25,1.65],[-0.95,0.1,-2.55,1.4],[-2.05,-1.1,-3.65,0.2],[-1.4,-0.2,-3.0,1.1],[-0.75,0.25,-2.35,1.55],[-0.7,0.35,-2.3,1.65],[-0.65,0.4,-2.25,1.7],[-0.35,0.3,-1.95,1.6]],
  [[-0.45,0.35,-2.05,1.65],[-0.5,0.35,-2.1,1.65],[-0.4,0.35,-2.0,1.65],[-0.35,0.45,-1.95,1.75],[-0.65,0.1,-2.25,1.4],[-0.5,0.4,-2.1,1.7],[-0.75,0.05,-2.35,1.35],[-1.1,-0.25,-2.7,1.05],[-0.35,0.4,-1.95,1.7],[-0.5,0.35,-2.1,1.65],[-1.9,-1.05,-3.5,0.25],[-0.9,-0.1,-2.5,1.2],[-0.65,0.1,-2.25,1.4],[-0.4,0.3,-2.0,1.6],[-0.4,0.3,-2.0,1.6],[-0.25,0.25,-1.85,1.55]],
  [[-0.35,0.35,-1.95,1.65],[-0.5,0.25,-2.1,1.55],[-0.35,0.4,-1.95,1.7],[-0.2,0.45,-1.8,1.75],[-0.5,0.15,-2.1,1.45],[-0.65,0.1,-2.25,1.4],[-0.65,0.05,-2.25,1.35],[-0.75,0.05,-2.35,1.35],[-0.25,0.4,-1.85,1.7],[-0.2,0.55,-1.8,1.85],[-1.85,-1.1,-3.45,0.2],[-0.7,0.05,-2.3,1.35],[-0.7,0.05,-2.3,1.35],[-0.35,0.3,-1.95,1.6],[-0.35,0.3,-1.95,1.6],[-0.2,0.25,-1.8,1.55]],
  [[-0.85,0.05,-2.45,1.35],[-0.9,0.0,-2.5,1.3],[-0.5,0.35,-2.1,1.65],[-0.75,0.15,-2.35,1.45],[-0.8,0.05,-2.4,1.35],[-0.95,-0.15,-2.55,1.15],[-0.95,-0.1,-2.55,1.2],[-0.55,0.4,-2.15,1.7],[-0.7,0.2,-2.3,1.5],[-0.3,0.55,-1.9,1.85],[-2.35,-1.45,-3.95,-0.15],[0.1,1.15,-1.5,2.45],[-0.9,-0.15,-2.5,1.15],[-0.45,0.35,-2.05,1.65],[-0.4,0.35,-2.0,1.65],[-0.2,0.25,-1.8,1.55]],
  [[-1.3,-0.55,-2.9,0.75],[-1.25,-0.5,-2.85,0.8],[-1.25,-0.3,-2.85,1.0],[-1.3,-0.5,-2.9,0.8],[-1.1,-0.35,-2.7,0.95],[-1.4,-0.7,-3.0,0.6],[-1.45,-0.65,-3.05,0.65],[-0.75,0.1,-2.35,1.4],[-1.25,-0.3,-2.85,1.0],[-0.65,0.05,-2.25,1.35],[-2.9,-2.15,-4.5,-0.85],[-0.3,0.7,-1.9,2.0],[-1.0,-0.35,-2.6,0.95],[-0.5,0.15,-2.1,1.45],[-0.45,0.25,-2.05,1.55],[-0.25,0.25,-1.85,1.55]],
  [[-1.4,-0.65,-3.0,0.65],[-1.15,-0.35,-2.75,0.95],[-1.35,-0.25,-2.95,1.05],[-1.6,-0.7,-3.2,0.6],[-1.0,-0.2,-2.6,1.1],[-1.3,-0.6,-2.9,0.7],[-1.7,-0.7,-3.3,0.6],[-0.55,0.4,-2.15,1.7],[-1.25,-0.4,-2.85,0.9],[-0.5,0.55,-2.1,1.85],[-3.1,-2.3,-4.7,-1.0],[-0.35,0.9,-1.95,2.2],[-0.95,-0.2,-2.55,1.1],[-0.55,0.25,-2.15,1.55],[-0.5,0.3,-2.1,1.6],[-0.25,0.25,-1.85,1.55]],
  [[-1.15,-0.4,-2.75,0.9],[-0.85,-0.05,-2.45,1.25],[-0.65,0.1,-2.25,1.4],[-1.3,-0.55,-2.9,0.75],[-0.7,0.05,-2.3,1.35],[-0.8,0.0,-2.4,1.3],[-1.25,-0.25,-2.85,1.05],[-0.2,0.8,-1.8,2.1],[-0.85,-0.05,-2.45,1.25],[0.1,1.05,-1.5,2.35],[-2.7,-1.75,-4.3,-0.45],[-0.15,0.9,-1.75,2.2],[-0.65,0.05,-2.25,1.35],[-0.45,0.25,-2.05,1.55],[-0.35,0.3,-1.95,1.6],[-0.3,0.25,-1.9,1.55]],
  [[-1.2,-0.15,-3.1,1.65],[-0.8,0.35,-2.7,2.15],[-0.65,0.3,-2.55,2.1],[-1.4,-0.15,-3.3,1.65],[-0.65,0.45,-2.55,2.25],[-0.65,0.55,-2.55,2.35],[-1.15,-0.2,-3.05,1.6],[-0.45,0.6,-2.35,2.4],[-0.8,0.35,-2.7,2.15],[-0.05,1.25,-1.95,3.05],[-2.4,-1.25,-4.3,0.55],[-0.65,0.5,-2.55,2.3],[-0.5,0.45,-2.4,2.25],[-0.75,0.2,-2.65,2.0],[-0.75,0.2,-2.65,2.0],[-0.35,0.3,-2.25,2.1]],
  [[-1.1,0.1,-3.0,1.9],[-0.75,0.4,-2.65,2.2],[-0.95,0.25,-2.85,2.05],[-1.3,-0.15,-3.2,1.65],[-0.55,0.6,-2.45,2.4],[-0.35,0.75,-2.25,2.55],[-1.1,-0.2,-3.0,1.6],[-0.6,0.65,-2.5,2.45],[-0.6,0.5,-2.5,2.3],[-0.05,1.2,-1.95,3.0],[-2.15,-1.1,-4.05,0.7],[-0.75,0.6,-2.65,2.4],[-0.45,0.6,-2.35,2.4],[-0.75,0.35,-2.65,2.15],[-0.75,0.35,-2.65,2.15],[-0.35,0.35,-2.25,2.15]],
  [[-1.05,0.2,-2.95,2.1],[-0.6,0.6,-2.5,2.5],[-0.75,0.55,-2.65,2.45],_,[-0.5,0.85,-2.4,2.75],[-0.05,0.95,-1.95,2.85],[-1.1,0.25,-3.0,2.15],[-0.55,0.85,-2.45,2.75],[-0.5,0.7,-2.4,2.6],[-0.05,1.25,-1.95,3.15],[-2.1,-0.9,-4.0,1.0],[-0.5,0.85,-2.4,2.75],[-0.4,0.85,-2.3,2.75],[-0.65,0.4,-2.55,2.3],[-0.6,0.5,-2.5,2.4],[-0.35,0.35,-2.25,2.25]],
  [[-0.75,0.4,-2.65,2.3],[-0.25,0.85,-2.15,2.75],[-0.25,0.9,-2.15,2.8],_,[-0.3,1.0,-2.2,2.9],[0.15,1.2,-1.75,3.1],[-0.85,0.35,-2.75,2.25],[-0.45,0.75,-2.35,2.65],[-0.35,0.85,-2.25,2.75],[0.05,1.2,-1.85,3.1],[-1.95,-0.9,-3.85,1.0],[-0.05,1.1,-1.95,3.0],[-0.2,0.9,-2.1,2.8],[-0.55,0.4,-2.45,2.3],[-0.4,0.5,-2.3,2.4],[-0.35,0.3,-2.25,2.2]],
  [[-0.1,0.9,-1.8,2.5],_,_,_,_,[0.6,1.55,-1.1,3.15],[-0.35,0.65,-2.05,2.25],[-0.35,0.85,-2.05,2.45],_,[0.4,1.45,-1.3,3.05],[-1.5,-0.5,-3.2,1.1],_,[0.0,1.05,-1.7,2.65],[-0.35,0.55,-2.05,2.15],[-0.2,0.75,-1.9,2.35],_],
  [[0.05,0.9,-1.65,2.5],_,_,_,_,[0.4,1.35,-1.3,2.95],[-0.4,0.4,-2.1,2.0],[-0.75,0.15,-2.45,1.75],_,[0.4,1.3,-1.3,2.9],[-1.6,-0.65,-3.3,0.95],_,[-0.3,0.6,-2.0,2.2],[-0.55,0.25,-2.25,1.85],[-0.45,0.4,-2.15,2.0],_],
  [[0.1,1.0,-1.6,2.6],_,_,_,_,[0.4,1.35,-1.3,2.95],[-0.2,0.65,-1.9,2.25],[-0.6,0.3,-2.3,1.9],_,[0.6,1.5,-1.1,3.1],[-1.4,-0.5,-3.1,1.1],_,[-0.5,0.4,-2.2,2.0],[-0.55,0.25,-2.25,1.85],[-0.5,0.35,-2.2,1.95],_]
];

const band50S30S = [
  [[-1.0,1.0,-3.3,2.6],[-0.75,1.15,-3.05,2.75],[-0.6,1.25,-2.9,2.85],[-0.85,1.0,-3.15,2.6],[-0.65,1.3,-2.95,2.9],[-0.7,1.0,-3.0,2.6],[-1.3,0.95,-3.6,2.55],[-1.25,0.75,-3.55,2.35],[-0.85,1.15,-3.15,2.75],[-1.15,0.7,-3.45,2.3],[-2.05,-0.25,-4.35,1.35],[-1.05,1.0,-3.35,2.6],[-0.55,1.3,-2.85,2.9],[-0.9,1.05,-3.2,2.65],[-0.8,1.15,-3.1,2.75],[-0.35,0.3,-2.65,1.9]],
  [[-0.55,0.3,-2.25,1.8],[-0.5,0.4,-2.2,1.9],[-0.4,0.45,-2.1,1.95],[-0.6,0.25,-2.3,1.75],[-0.55,0.3,-2.25,1.8],[-0.6,0.25,-2.3,1.75],[-1.0,-0.15,-2.7,1.35],[-1.15,-0.25,-2.85,1.25],[-0.6,0.2,-2.3,1.7],[-0.85,0.0,-2.55,1.5],[-1.9,-1.0,-3.6,0.5],[-0.75,0.15,-2.45,1.65],[-0.35,0.4,-2.05,1.9],[-0.45,0.4,-2.15,1.9],[-0.4,0.4,-2.1,1.9],[-0.3,0.3,-2.0,1.8]],
  [[-0.5,0.15,-2.2,1.65],[-0.45,0.25,-2.15,1.75],[-0.45,0.25,-2.15,1.75],[-0.6,0.05,-2.3,1.55],[-0.6,0.05,-2.3,1.55],[-0.65,0.0,-2.35,1.5],[-1.0,-0.35,-2.7,1.15],[-1.1,-0.45,-2.8,1.05],[-0.65,0.0,-2.35,1.5],[-0.75,0.0,-2.45,1.5],[-1.9,-1.2,-3.6,0.3],[-0.65,0.05,-2.35,1.55],[-0.5,0.15,-2.2,1.65],[-0.4,0.2,-2.1,1.7],[-0.4,0.25,-2.1,1.75],[-0.25,0.2,-1.95,1.7]],
  [[-0.3,0.4,-2.0,1.9],[-0.3,0.4,-2.0,1.9],[-0.4,0.3,-2.1,1.8],[-0.4,0.3,-2.1,1.8],[-0.45,0.25,-2.15,1.75],[-0.7,0.05,-2.4,1.55],[-0.8,-0.05,-2.5,1.45],[-0.8,-0.05,-2.5,1.45],[-0.3,0.35,-2.0,1.85],[-0.3,0.45,-2.0,1.95],[-1.75,-1.1,-3.45,0.4],[-0.45,0.25,-2.15,1.75],[-0.55,0.1,-2.25,1.6],[-0.3,0.35,-2.0,1.85],[-0.3,0.35,-2.0,1.85],[-0.25,0.25,-1.95,1.75]],
  [[-0.4,0.3,-2.1,1.8],[-0.4,0.3,-2.1,1.8],[-0.5,0.2,-2.2,1.7],[-0.5,0.2,-2.2,1.7],[-0.55,0.15,-2.25,1.65],[-0.7,0.0,-2.4,1.5],[-0.7,0.0,-2.4,1.5],[-0.55,0.2,-2.25,1.7],[-0.4,0.3,-2.1,1.8],[-0.15,0.6,-1.85,2.1],[-2.0,-1.2,-3.7,0.3],[0.4,1.1,-1.3,2.6],[-0.7,0.0,-2.4,1.5],[-0.3,0.3,-2.0,1.8],[-0.25,0.35,-1.95,1.85],[-0.2,0.25,-1.9,1.75]],
  [[-0.85,-0.2,-2.55,1.3],[-0.75,-0.1,-2.45,1.4],[-0.85,-0.05,-2.55,1.45],[-0.9,-0.25,-2.6,1.25],[-0.85,-0.2,-2.55,1.3],[-1.0,-0.35,-2.7,1.15],[-1.05,-0.35,-2.75,1.15],[-0.6,0.05,-2.3,1.55],[-0.85,-0.15,-2.55,1.35],[-0.5,0.15,-2.2,1.65],[-2.5,-1.75,-4.2,-0.25],[0.25,1.0,-1.45,2.5],[-0.85,-0.2,-2.55,1.3],[-0.5,0.2,-2.2,1.7],[-0.4,0.25,-2.1,1.75],[-0.25,0.25,-1.95,1.75]],
  [[-0.9,-0.2,-2.6,1.3],[-0.7,0.0,-2.4,1.5],[-0.85,-0.05,-2.55,1.45],[-0.95,-0.25,-2.65,1.25],[-0.85,-0.1,-2.55,1.4],[-0.95,-0.25,-2.65,1.25],[-1.05,-0.3,-2.75,1.2],[-0.5,0.25,-2.2,1.75],[-0.85,-0.05,-2.55,1.45],[-0.25,0.45,-1.95,1.95],[-2.6,-1.75,-4.3,-0.25],[0.3,1.1,-1.4,2.6],[-0.65,0.0,-2.35,1.5],[-0.5,0.2,-2.2,1.7],[-0.45,0.2,-2.15,1.7],[-0.3,0.25,-2.0,1.75]],
  [[-0.75,0.1,-2.45,1.6],[-0.45,0.45,-2.15,1.95],[-0.4,0.5,-2.1,2.0],[-1.0,-0.05,-2.7,1.45],[-0.45,0.4,-2.15,1.9],[-0.7,0.25,-2.4,1.75],[-0.85,0.05,-2.55,1.55],[0.0,1.0,-1.7,2.5],[-0.6,0.3,-2.3,1.8],[0.15,1.0,-1.55,2.5],[-2.35,-1.45,-4.05,0.05],[0.4,1.3,-1.3,2.8],[-0.4,0.5,-2.1,2.0],[-0.4,0.45,-2.1,1.95],[-0.35,0.45,-2.05,1.95],[-0.3,0.3,-2.0,1.8]],
  [[-1.15,0.55,-3.45,2.55],[-0.8,0.75,-3.1,2.75],[-0.7,0.85,-3.0,2.85],[-1.35,0.25,-3.65,2.25],[-0.7,0.9,-3.0,2.9],[-0.9,0.85,-3.2,2.85],[-1.05,0.5,-3.35,2.5],[-0.15,1.4,-2.45,3.4],[-0.95,0.9,-3.25,2.9],[-0.1,1.4,-2.4,3.4],[-2.45,-0.85,-4.75,1.15],[-0.25,1.35,-2.55,3.35],[-0.55,1.0,-2.85,3.0],[-1.0,0.45,-3.3,2.45],[-0.95,0.5,-3.25,2.5],[-0.5,0.3,-2.8,2.3]],
  [[-0.95,0.45,-3.25,2.45],[-0.8,0.7,-3.1,2.7],[-0.7,0.75,-3.0,2.75],[-1.2,0.25,-3.5,2.25],[-0.45,1.0,-2.75,3.0],[-0.65,1.0,-2.95,3.0],[-1.2,0.4,-3.5,2.4],[-0.55,1.0,-2.85,3.0],[-0.8,0.85,-3.1,2.85],[-0.2,1.3,-2.5,3.3],[-2.2,-0.9,-4.5,1.1],[-0.7,0.7,-3.0,2.7],[-0.6,1.1,-2.9,3.1],[-1.1,0.45,-3.4,2.45],[-1.1,0.45,-3.4,2.45],[-0.5,0.55,-2.8,2.55]],
  [[-0.8,3.2,-5.0,5.5],[-0.65,3.45,-4.85,5.75],[-0.6,3.45,-4.8,5.75],_,[-0.15,3.75,-4.35,6.05],[-0.3,3.5,-4.5,5.8],[-1.2,2.7,-5.4,5.0],[-0.8,3.3,-5.0,5.6],[-0.35,3.2,-4.55,5.5],[-0.5,3.4,-4.7,5.7],[-1.9,1.75,-6.1,4.05],[-0.7,3.6,-4.9,5.9],[-0.25,3.7,-4.45,6.0],[-1.05,2.8,-5.25,5.1],[-1.05,2.85,-5.25,5.15],[-0.45,0.75,-4.65,3.05]],
  [[0.5,2.6,-2.5,4.6],[0.85,3.0,-2.15,5.0],[0.85,3.05,-2.15,5.05],_,[0.7,3.2,-2.3,5.2],[0.85,3.25,-2.15,5.25],[0.1,2.25,-2.9,4.25],[0.7,2.85,-2.3,4.85],[1.0,3.05,-2.0,5.05],[0.9,3.1,-2.1,5.1],[-0.85,1.2,-3.85,3.2],[0.7,2.9,-2.3,4.9],[1.0,3.15,-2.0,5.15],[-0.05,2.1,-3.05,4.1],[0.1,2.25,-2.9,4.25],[-0.5,0.65,-3.5,2.65]],
  [[0.6,1.8,-1.0,3.4],_,_,_,_,[1.0,2.25,-0.6,3.85],[0.15,1.3,-1.45,2.9],[0.2,1.5,-1.4,3.1],_,[0.85,2.1,-0.75,3.7],[-0.85,0.35,-2.45,1.95],_,[0.85,2.1,-0.75,3.7],[-0.1,1.1,-1.7,2.7],[0.0,1.2,-1.6,2.8],_],
  [[0.4,1.2,-1.1,2.7],_,_,_,_,[0.7,1.55,-0.8,3.05],[-0.1,0.75,-1.6,2.25],[-0.45,0.5,-1.95,2.0],_,[0.65,1.5,-0.85,3.0],[-1.1,-0.25,-2.6,1.25],_,[0.25,1.1,-1.25,2.6],[-0.35,0.45,-1.85,1.95],[-0.25,0.55,-1.75,2.05],_],
  [[0.2,0.9,-1.3,2.4],_,_,_,_,[0.25,1.05,-1.25,2.55],[-0.35,0.4,-1.85,1.9],[-0.5,0.2,-2.0,1.7],_,[0.65,1.35,-0.85,2.85],[-1.3,-0.55,-2.8,0.95],_,[-0.2,0.55,-1.7,2.05],[-0.55,0.15,-2.05,1.65],[-0.45,0.2,-1.95,1.7],_]
];

const band70S50S = [
  [[-0.7,0.4,-2.0,1.6],[-0.7,0.35,-2.0,1.55],[-0.7,0.25,-2.0,1.45],[-1.05,-0.1,-2.35,1.1],[-0.65,0.35,-1.95,1.55],[-0.8,0.15,-2.1,1.35],[-1.3,-0.35,-2.6,0.85],[-1.0,-0.05,-2.3,1.15],[-1.1,-0.15,-2.4,1.05],[-1.15,-0.2,-2.45,1.0],[-2.25,-1.25,-3.55,-0.05],[-0.4,0.6,-1.7,1.8],[-0.6,0.35,-1.9,1.55],[-0.8,0.1,-2.1,1.3],[-0.8,0.1,-2.1,1.3],[-0.2,0.6,-1.5,1.8]],
  [[0.25,1.0,-0.95,2.1],[0.3,1.1,-0.9,2.2],[0.4,1.15,-0.8,2.25],[0.0,0.8,-1.2,1.9],[0.35,1.0,-0.85,2.1],[0.15,0.9,-1.05,2.0],[-0.3,0.4,-1.5,1.5],[-0.15,0.55,-1.35,1.65],[0.05,0.75,-1.15,1.85],[-0.05,0.65,-1.25,1.75],[-1.1,-0.4,-2.3,0.7],[0.35,0.95,-0.85,2.05],[0.3,0.95,-0.9,2.05],[0.25,1.0,-0.95,2.1],[0.3,1.0,-0.9,2.1],[-0.25,0.2,-1.45,1.3]],
  [[-0.2,0.45,-1.4,1.55],[-0.15,0.5,-1.35,1.6],[-0.1,0.5,-1.3,1.6],[-0.5,0.2,-1.7,1.3],[-0.2,0.5,-1.4,1.6],[-0.4,0.25,-1.6,1.35],[-0.8,-0.05,-2.0,1.05],[-0.6,0.1,-1.8,1.2],[-0.45,0.2,-1.65,1.3],[-0.6,0.05,-1.8,1.15],[-1.5,-0.9,-2.7,0.2],[-0.05,0.65,-1.25,1.75],[-0.25,0.4,-1.45,1.5],[-0.2,0.5,-1.4,1.6],[-0.2,0.5,-1.4,1.6],[-0.2,0.25,-1.4,1.35]],
  [[-0.25,0.35,-1.45,1.45],[-0.15,0.4,-1.35,1.5],[-0.15,0.4,-1.35,1.5],[-0.45,0.2,-1.65,1.3],[-0.3,0.3,-1.5,1.4],[-0.5,0.15,-1.7,1.25],[-0.7,-0.05,-1.9,1.05],[-0.6,0.05,-1.8,1.15],[-0.4,0.2,-1.6,1.3],[-0.5,0.2,-1.7,1.3],[-1.55,-0.9,-2.75,0.2],[-0.1,0.5,-1.3,1.6],[-0.4,0.15,-1.6,1.25],[-0.2,0.4,-1.4,1.5],[-0.2,0.4,-1.4,1.5],[-0.2,0.25,-1.4,1.35]],
  [[-0.25,0.4,-1.45,1.5],[-0.15,0.55,-1.35,1.65],[-0.4,0.3,-1.6,1.4],[-0.4,0.35,-1.6,1.45],[-0.25,0.4,-1.45,1.5],[-0.45,0.2,-1.65,1.3],[-0.55,0.15,-1.75,1.25],[-0.4,0.25,-1.6,1.35],[-0.25,0.45,-1.45,1.55],[-0.35,0.3,-1.55,1.4],[-1.5,-0.85,-2.7,0.25],[0.0,0.65,-1.2,1.75],[-0.55,0.15,-1.75,1.25],[-0.25,0.4,-1.45,1.5],[-0.25,0.4,-1.45,1.5],[-0.25,0.2,-1.45,1.3]],
  [[-0.4,0.2,-1.6,1.3],[-0.3,0.35,-1.5,1.45],[-0.7,0.15,-1.9,1.25],[-0.55,0.1,-1.75,1.2],[-0.4,0.2,-1.6,1.3],[-0.65,0.0,-1.85,1.1],[-0.6,0.0,-1.8,1.1],[-0.55,0.1,-1.75,1.2],[-0.4,0.25,-1.6,1.35],[-0.35,0.25,-1.55,1.35],[-1.9,-1.25,-3.1,-0.15],[0.5,1.15,-0.7,2.25],[-0.7,0.0,-1.9,1.1],[-0.4,0.25,-1.6,1.35],[-0.4,0.25,-1.6,1.35],[-0.25,0.2,-1.45,1.3]],
  [[-0.05,0.8,-1.35,2.1],[0.2,0.7,-1.1,2.0],[0.1,0.65,-1.2,1.95],[-0.1,0.55,-1.4,1.85],[0.0,0.8,-1.3,2.1],[-0.15,0.7,-1.45,2.0],[-0.15,0.65,-1.45,1.95],[0.15,1.0,-1.15,2.3],[0.05,0.85,-1.25,2.15],[0.3,1.1,-1.0,2.4],[-1.65,-0.7,-2.95,0.6],[1.15,2.0,-0.15,3.3],[0.05,0.9,-1.25,2.2],[0.05,0.95,-1.25,2.25],[0.05,0.95,-1.25,2.25],[-0.3,0.25,-1.6,1.55]],
  [[-1.1,-0.3,-2.5,1.2],[-0.8,0.4,-2.2,1.9],[-0.75,0.5,-2.15,2.0],[-1.25,-0.05,-2.65,1.45],[-0.9,0.3,-2.3,1.8],[-1.1,0.1,-2.5,1.6],[-1.05,0.2,-2.45,1.7],[-0.75,0.5,-2.15,2.0],[-0.9,0.35,-2.3,1.85],[-0.7,0.45,-2.1,1.95],[-2.45,-1.2,-3.85,0.3],[0.25,1.45,-1.15,2.95],[-0.95,0.25,-2.35,1.75],[-1.05,0.15,-2.45,1.65],[-1.05,0.15,-2.45,1.65],[-1.1,0.45,-2.5,1.95]],
  _, _, _, _, _,
  [[-0.55,1.6,-2.05,3.3],_,_,_,_,[-0.4,1.75,-1.9,3.45],[-1.05,0.85,-2.2,2.6],[-1.05,1.3,-2.2,3.0],_,[-0.25,1.9,-1.3,3.5],[-2.0,-0.35,-3.2,1.35],_,[-0.6,1.5,-1.9,3.0],[-1.65,0.45,-2.7,2.5],[-1.55,0.55,-2.6,2.6],_],
  [[0.65,1.45,-0.55,2.55],_,_,_,_,[0.75,1.55,-0.45,2.65],[0.2,1.2,-1.0,2.3],[0.2,0.95,-1.0,2.05],_,[1.05,1.8,-0.15,2.9],[-0.55,0.15,-1.75,1.25],_,[0.45,1.25,-0.75,2.35],[-0.15,0.6,-1.35,1.7],[-0.1,0.65,-1.3,1.75],_]
];

const bands = [band50N70N, band30N50N, band10N30N, band10S10N, band30S10S, band50S30S, band70S50S];

// ---------- layout ----------
const W = 2554, H = 1140;
const svg = d3.select("body").append("svg").attr("width", W).attr("height", H);

const xMonth = d3.scaleBand().domain(d3.range(months.length)).range([0, 2532]);
const xModel = d3.scaleBand().domain(d3.range(models.length)).range([12, 162.5]).paddingInner(0.158).paddingOuter(0);
const rowZero = d3.scaleLinear().domain([0, bands.length - 1]).range([119, 1067]);
const unit = 24.5;
const yFor = r => { const z = rowZero(r); return d3.scaleLinear().domain([-2, 2]).range([z + 2 * unit, z - 2 * unit]); };

const gGrid = svg.append("g"), gZero = svg.append("g"), gWhisk = svg.append("g"),
      gBox = svg.append("g"), gText = svg.append("g");

bands.forEach((band, r) => {
  const y = yFor(r);
  band.forEach((panel, m) => {
    if (!panel) return;
    const x0 = xMonth(m), x1 = x0 + xMonth.bandwidth();
    [-2, 2].forEach(v => gGrid.append("line").attr("x1", x0).attr("x2", x1)
      .attr("y1", y(v)).attr("y2", y(v)).attr("stroke", "#cccccc").attr("stroke-width", 1.8));
    gZero.append("line").attr("x1", x0).attr("x2", x1).attr("y1", y(0)).attr("y2", y(0))
      .attr("stroke", "#000").attr("stroke-width", 2.6);

    const boxes = panel.map((b, i) => b ? { i, lo: b[0], hi: b[1], wl: b[2], wh: b[3] } : null).filter(Boolean);
    const cx = d => x0 + xModel(d.i) + xModel.bandwidth() / 2;

    gWhisk.selectAll(null).data(boxes).join("line")
      .attr("x1", cx).attr("x2", cx).attr("y1", d => y(d.wh)).attr("y2", d => y(d.hi))
      .attr("stroke", "#d3d3d3").attr("stroke-width", 2);
    gWhisk.selectAll(null).data(boxes).join("line")
      .attr("x1", cx).attr("x2", cx).attr("y1", d => y(d.lo)).attr("y2", d => y(d.wl))
      .attr("stroke", "#d3d3d3").attr("stroke-width", 2);

    gBox.selectAll(null).data(boxes).join("rect")
      .attr("x", d => x0 + xModel(d.i)).attr("width", xModel.bandwidth())
      .attr("y", d => y(d.hi)).attr("height", d => y(d.lo) - y(d.hi))
      .attr("fill", d => modelColors[d.i]);

    const n = nCounts[r][m];
    if (n != null) {
      gText.append("text").attr("x", x0 + 15).attr("y", y(0.95)).attr("dy", "0.35em")
        .attr("font-size", 16.5).attr("fill", "#000").text("n = " + n);
    }
  });

  // band label
  gText.append("text").attr("x", 11).attr("y", y(2)).attr("dy", "0.35em")
    .attr("font-size", 19.5).attr("font-weight", "bold").text(bandLabels[r]);

  // value axis on the right
  const ax = d3.axisLeft(y).tickValues(yTicks).tickSize(0).tickPadding(0).tickFormat(d3.format("d"));
  const ga = svg.append("g").attr("transform", `translate(2551,0)`).call(ax);
  ga.select(".domain").remove();
  ga.selectAll("text").attr("font-size", 16.5).attr("font-family", null).attr("fill", "#000");
});

// month headers
gText.selectAll(null).data(months).join("text")
  .attr("x", (d, m) => xMonth(m) + 7).attr("y", 50).attr("dy", "0.35em")
  .attr("font-size", 19.5).attr("font-weight", "bold").text(d => d);

// title
gText.append("text").attr("x", 140).attr("y", 17).attr("dy", "0.35em")
  .attr("font-size", 18).attr("font-weight", "bold").text(chartTitle);

// legend (three columns)
const legendCols = [359, 575, 790];
const legend = svg.append("g");
models.forEach((name, i) => {
  const col = Math.floor(i / 6), row = i % 6;
  const lx = legendCols[col], ly = 91 + 19 * row;
  legend.append("rect").attr("x", lx).attr("y", ly - 5.5).attr("width", 11).attr("height", 11)
    .attr("fill", modelColors[i]).attr("stroke", "#000").attr("stroke-width", 1);
  legend.append("text").attr("x", lx + 26).attr("y", ly).attr("dy", "0.35em")
    .attr("font-size", 15.5).text(name);
});
</script>
</body>
</html>
